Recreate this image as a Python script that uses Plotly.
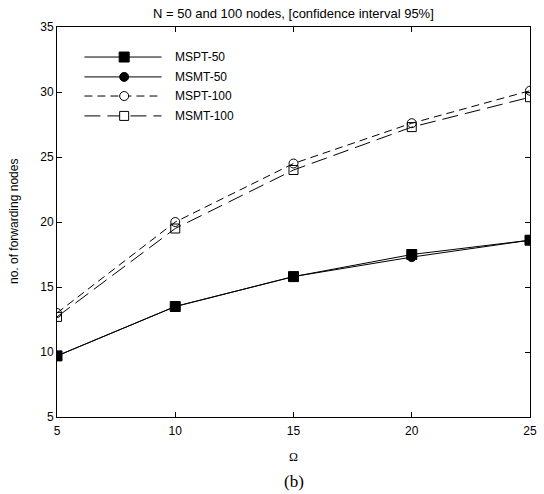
import plotly.graph_objects as go

omega = [5, 10, 15, 20, 25]
mspt_50 = [9.7, 13.5, 15.8, 17.5, 18.6]
msmt_50 = [9.7, 13.5, 15.8, 17.3, 18.6]
mspt_100 = [13.0, 20.0, 24.5, 27.6, 30.1]
msmt_100 = [12.7, 19.5, 24.0, 27.3, 29.6]

series_names = ["MSPT-50", "MSMT-50", "MSPT-100", "MSMT-100"]
series_values = [mspt_50, msmt_50, mspt_100, msmt_100]
styles = [
    dict(dash="solid", symbol="square", size=10),
    dict(dash="solid", symbol="circle", size=9),
    dict(dash="8px,5px", symbol="circle-open", size=9),
    dict(dash="16px,7px", symbol="square-open", size=9),
]

fig = go.Figure()
for name, vals, st in zip(series_names, series_values, styles):
    fig.add_trace(go.Scatter(
        x=omega, y=vals, mode="lines+markers", name=name, showlegend=False,
        line=dict(color="black", width=1, dash=st["dash"]),
        marker=dict(symbol=st["symbol"], size=st["size"], color="black",
                    line=dict(color="black", width=1)),
    ))

# hand-drawn legend on an overlay axis spanning the plot area
leg_rows = [0.923, 0.872, 0.823, 0.772]
for name, st, yy in zip(series_names, styles, leg_rows):
    fig.add_trace(go.Scatter(
        x=[0.058, 0.221], y=[yy, yy], mode="lines", xaxis="x2", yaxis="y2",
        showlegend=False, hoverinfo="skip",
        line=dict(color="black", width=1, dash=st["dash"]),
    ))
    fig.add_trace(go.Scatter(
        x=[0.142], y=[yy], mode="markers", xaxis="x2", yaxis="y2",
        showlegend=False, hoverinfo="skip",
        marker=dict(symbol=st["symbol"].replace("-open", ""), size=st["size"],
                    color="white" if "open" in st["symbol"] else "black",
                    line=dict(color="black", width=1)),
    ))
    fig.add_annotation(x=0.246, y=yy, xref="x2", yref="y2", text=name,
                       showarrow=False, xanchor="left", yanchor="middle",
                       font=dict(family="Arial, Liberation Sans", size=12, color="black"))

axis_common = dict(showline=True, linecolor="black", linewidth=1, mirror="allticks",
                   ticks="inside", ticklen=5, tickcolor="black", showgrid=False,
                   zeroline=False, tickfont=dict(family="Arial, Liberation Sans", size=12, color="black"))

fig.update_layout(
    width=544, height=494,
    margin=dict(l=57, r=7, t=27, b=77),
    plot_bgcolor="white", paper_bgcolor="white",
    xaxis=dict(range=[5, 25], tickvals=[5, 10, 15, 20, 25], ticklabelstandoff=3, **axis_common),
    yaxis=dict(range=[5, 35], tickvals=[5, 10, 15, 20, 25, 30, 35], **axis_common),
    xaxis2=dict(range=[0, 1], overlaying="x", visible=False),
    yaxis2=dict(range=[0, 1], overlaying="y", visible=False),
    showlegend=False,
)

fig.add_annotation(x=0.5, y=1, xref="paper", yref="paper", yshift=4,
                   text="N = 50 and 100 nodes, [confidence interval 95%]",
                   showarrow=False, xanchor="center", yanchor="bottom",
                   font=dict(family="Arial, Liberation Sans", size=13, color="black"))
fig.add_annotation(x=0, y=0.5, xref="paper", yref="paper", xshift=-43,
                   text="no. of forwarding nodes", textangle=-90,
                   showarrow=False, xanchor="center", yanchor="middle",
                   font=dict(family="Arial, Liberation Sans", size=12, color="black"))
fig.add_annotation(x=0.5, y=0, xref="paper", yref="paper", yshift=-40,
                   text="Ω", showarrow=False, xanchor="center", yanchor="middle",
                   font=dict(family="Times New Roman, Liberation Serif", size=12, color="black"))
fig.add_annotation(x=0.5, y=0, xref="paper", yref="paper", yshift=-64,
                   text="(b)", showarrow=False, xanchor="center", yanchor="middle",
                   font=dict(family="Times New Roman, Liberation Serif", size=17, color="black"))

fig.write_html("out.html")
